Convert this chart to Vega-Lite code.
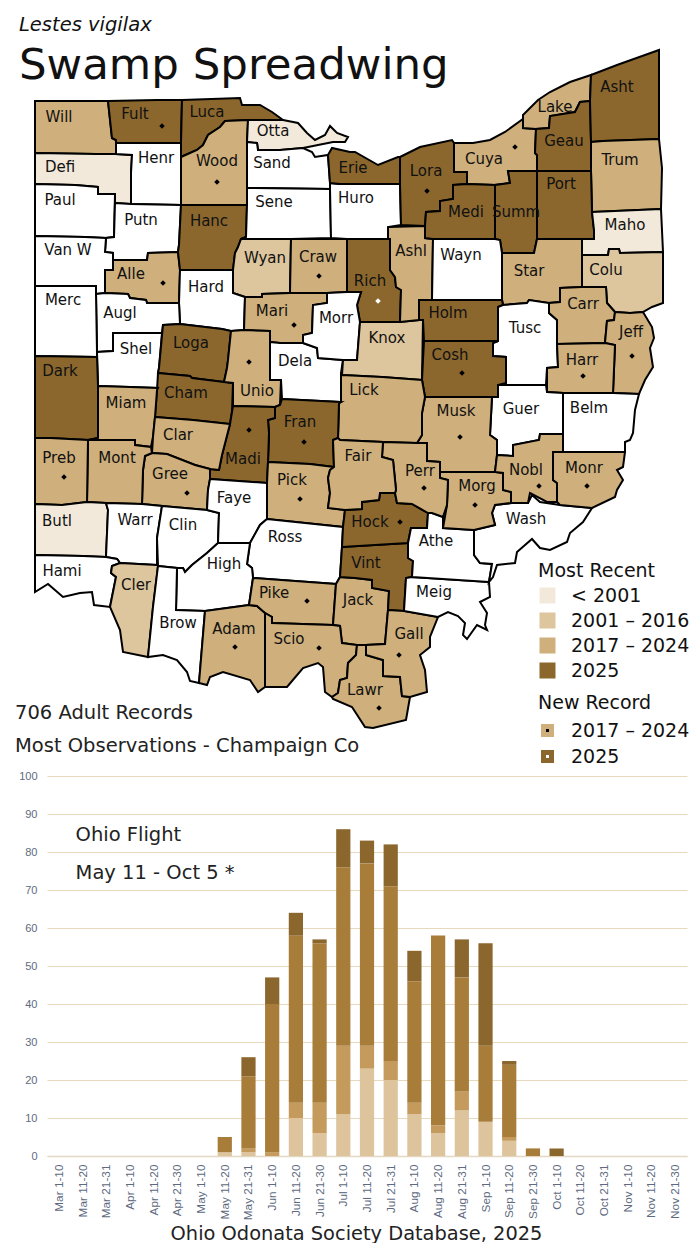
{"$schema":"https://vega.github.io/schema/vega-lite/v6.json","padding":{"left":15,"top":15,"right":0,"bottom":0},"background":"white","bounds":"flush","spacing":0,"resolve":{"scale":{"fill":"independent","color":"independent"}},"config":{"font":"DejaVu Sans","view":{"stroke":null}},
"datasets":{
"counties":[
{"type":"Feature","name":"Will","cat":"2017 – 2024","lx":59,"ly":117,"geometry":{"type":"Polygon","coordinates":[[[35,101],[108,101],[112,138],[116,140],[116,154],[96,154],[35,153],[35,101]]]}},
{"type":"Feature","name":"Fult","cat":"2025","lx":135,"ly":114,"geometry":{"type":"Polygon","coordinates":[[[108,101],[157,100],[182,100],[181,143],[116,143],[116,140],[112,138],[108,101]]]}},
{"type":"Feature","name":"Luca","cat":"2025","lx":207,"ly":112,"geometry":{"type":"Polygon","coordinates":[[[182,100],[240,98],[242,105],[260,105],[272,112],[283,120],[248,120],[225,121],[220,127],[208,135],[203,145],[197,150],[181,157],[181,143],[182,100]]]}},
{"type":"Feature","name":"Wood","cat":"2017 – 2024","lx":217,"ly":161,"geometry":{"type":"Polygon","coordinates":[[[225,121],[248,120],[247,142],[247,188],[247,205],[181,205],[181,157],[197,150],[203,145],[208,135],[220,127],[225,121]]]}},
{"type":"Feature","name":"Otta","cat":"< 2001","lx":273,"ly":131,"geometry":{"type":"Polygon","coordinates":[[[248,120],[283,120],[298,123],[307,133],[315,140],[325,135],[330,126],[337,133],[348,137],[345,142],[333,142],[313,146],[303,148],[280,150],[258,150],[257,143],[247,142],[248,120]]]}},
{"type":"Feature","name":"Sand","cat":"none","lx":272,"ly":163,"geometry":{"type":"Polygon","coordinates":[[[247,142],[257,143],[258,150],[280,150],[303,148],[312,152],[315,157],[328,155],[330,183],[330,189],[247,188],[247,142]]]}},
{"type":"Feature","name":"Defi","cat":"< 2001","lx":60,"ly":167,"geometry":{"type":"Polygon","coordinates":[[[35,153],[96,154],[116,154],[132,155],[131,173],[131,204],[115,203],[115,194],[98,194],[98,187],[75,185],[35,184],[35,153]]]}},
{"type":"Feature","name":"Henr","cat":"none","lx":156,"ly":158,"geometry":{"type":"Polygon","coordinates":[[[116,143],[181,143],[181,157],[181,205],[131,204],[131,173],[132,155],[116,154],[116,143]]]}},
{"type":"Feature","name":"Paul","cat":"none","lx":60,"ly":200,"geometry":{"type":"Polygon","coordinates":[[[35,184],[75,185],[98,187],[98,194],[115,194],[114,237],[106,238],[85,237],[35,236],[35,184]]]}},
{"type":"Feature","name":"Putn","cat":"none","lx":141,"ly":220,"geometry":{"type":"Polygon","coordinates":[[[115,203],[131,204],[181,205],[179,245],[178,252],[148,253],[147,260],[113,260],[113,253],[105,252],[106,238],[114,237],[115,203]]]}},
{"type":"Feature","name":"Van W","cat":"none","lx":68,"ly":250,"geometry":{"type":"Polygon","coordinates":[[[35,236],[85,237],[106,238],[105,252],[113,253],[113,260],[113,270],[105,270],[105,293],[96,294],[96,286],[35,286],[35,236]]]}},
{"type":"Feature","name":"Alle","cat":"2017 – 2024","lx":131,"ly":274,"geometry":{"type":"Polygon","coordinates":[[[113,260],[147,260],[148,253],[178,252],[180,270],[179,303],[147,303],[146,300],[130,298],[128,294],[105,293],[105,270],[113,270],[113,260]]]}},
{"type":"Feature","name":"Hanc","cat":"2025","lx":209,"ly":221,"geometry":{"type":"Polygon","coordinates":[[[181,205],[247,205],[246,237],[241,239],[238,247],[235,253],[233,270],[180,270],[178,252],[179,245],[181,205]]]}},
{"type":"Feature","name":"Sene","cat":"none","lx":274,"ly":202,"geometry":{"type":"Polygon","coordinates":[[[247,188],[330,189],[331,238],[291,239],[241,239],[246,237],[247,205],[247,188]]]}},
{"type":"Feature","name":"Wyan","cat":"2001 – 2016","lx":265,"ly":258,"geometry":{"type":"Polygon","coordinates":[[[241,239],[291,239],[290,293],[262,294],[262,297],[245,297],[233,293],[233,270],[235,253],[238,247],[241,239]]]}},
{"type":"Feature","name":"Craw","cat":"2017 – 2024","lx":318,"ly":257,"geometry":{"type":"Polygon","coordinates":[[[291,239],[347,239],[347,292],[327,293],[290,293],[291,239]]]}},
{"type":"Feature","name":"Hard","cat":"none","lx":206,"ly":287,"geometry":{"type":"Polygon","coordinates":[[[180,270],[233,270],[233,293],[245,297],[244,330],[231,331],[222,329],[180,324],[179,303],[180,270]]]}},
{"type":"Feature","name":"Mari","cat":"2017 – 2024","lx":272,"ly":311,"geometry":{"type":"Polygon","coordinates":[[[245,297],[262,297],[262,294],[290,293],[327,293],[327,303],[313,305],[312,333],[303,335],[303,343],[280,343],[270,342],[270,331],[244,330],[245,297]]]}},
{"type":"Feature","name":"Augl","cat":"none","lx":120,"ly":313,"geometry":{"type":"Polygon","coordinates":[[[96,294],[105,293],[128,294],[130,298],[146,300],[147,303],[179,303],[180,324],[163,325],[162,333],[113,333],[113,351],[97,352],[96,294]]]}},
{"type":"Feature","name":"Merc","cat":"none","lx":63,"ly":300,"geometry":{"type":"Polygon","coordinates":[[[35,286],[96,286],[96,294],[97,352],[97,357],[35,356],[35,286]]]}},
{"type":"Feature","name":"Shel","cat":"none","lx":136,"ly":349,"geometry":{"type":"Polygon","coordinates":[[[113,333],[162,333],[159,368],[158,373],[158,388],[130,387],[98,386],[97,352],[113,351],[113,333]]]}},
{"type":"Feature","name":"Dark","cat":"2025","lx":60,"ly":371,"geometry":{"type":"Polygon","coordinates":[[[35,356],[97,357],[98,386],[98,438],[88,440],[50,438],[35,438],[35,356]]]}},
{"type":"Feature","name":"Loga","cat":"2025","lx":191,"ly":343,"geometry":{"type":"Polygon","coordinates":[[[163,325],[180,324],[222,329],[231,331],[228,360],[227,368],[224,382],[192,378],[190,376],[158,373],[159,368],[163,325]]]}},
{"type":"Feature","name":"Cham","cat":"2025","lx":186,"ly":393,"geometry":{"type":"Polygon","coordinates":[[[158,373],[190,376],[192,378],[224,382],[233,383],[232,412],[230,424],[193,420],[155,417],[157,390],[158,373]]]}},
{"type":"Feature","name":"Miam","cat":"2017 – 2024","lx":126,"ly":403,"geometry":{"type":"Polygon","coordinates":[[[98,386],[130,387],[158,388],[157,390],[155,417],[153,437],[151,447],[135,445],[135,440],[88,440],[98,438],[98,386]]]}},
{"type":"Feature","name":"Unio","cat":"2017 – 2024","lx":257,"ly":391,"geometry":{"type":"Polygon","coordinates":[[[231,331],[244,330],[270,331],[270,342],[270,380],[281,380],[280,405],[275,407],[233,406],[233,383],[224,382],[227,368],[228,360],[231,331]]]}},
{"type":"Feature","name":"Dela","cat":"none","lx":295,"ly":361,"geometry":{"type":"Polygon","coordinates":[[[270,342],[280,343],[303,343],[317,348],[318,358],[343,360],[341,373],[341,402],[282,399],[281,380],[270,380],[270,342]]]}},
{"type":"Feature","name":"Rich","cat":"2025","lx":370,"ly":281,"geometry":{"type":"Polygon","coordinates":[[[347,239],[390,239],[390,270],[395,277],[396,287],[401,290],[400,322],[360,322],[357,305],[361,292],[347,292],[347,239]]]}},
{"type":"Feature","name":"Morr","cat":"none","lx":336,"ly":318,"geometry":{"type":"Polygon","coordinates":[[[327,293],[347,292],[361,292],[357,305],[360,322],[357,360],[343,360],[318,358],[317,348],[303,343],[303,335],[312,333],[313,305],[327,303],[327,293]]]}},
{"type":"Feature","name":"Knox","cat":"2001 – 2016","lx":387,"ly":338,"geometry":{"type":"Polygon","coordinates":[[[360,322],[400,322],[419,320],[423,320],[422,380],[382,377],[342,375],[343,360],[357,360],[360,322]]]}},
{"type":"Feature","name":"Ashl","cat":"2017 – 2024","lx":411,"ly":251,"geometry":{"type":"Polygon","coordinates":[[[388,227],[425,226],[425,238],[433,239],[432,300],[419,300],[419,320],[400,322],[401,290],[396,287],[395,277],[390,270],[390,239],[388,239],[388,227]]]}},
{"type":"Feature","name":"Huro","cat":"none","lx":356,"ly":198,"geometry":{"type":"Polygon","coordinates":[[[330,183],[340,184],[400,184],[401,225],[388,227],[388,239],[347,239],[331,238],[330,189],[330,183]]]}},
{"type":"Feature","name":"Erie","cat":"2025","lx":353,"ly":168,"geometry":{"type":"Polygon","coordinates":[[[328,155],[332,148],[350,152],[355,152],[378,165],[398,157],[400,157],[400,184],[340,184],[330,183],[328,155]]]}},
{"type":"Feature","name":"Lora","cat":"2025","lx":426,"ly":171,"geometry":{"type":"Polygon","coordinates":[[[400,157],[420,147],[452,140],[454,143],[454,172],[467,172],[467,184],[453,185],[453,199],[440,201],[440,211],[426,212],[425,226],[401,225],[400,184],[400,157]]]}},
{"type":"Feature","name":"Cuya","cat":"2017 – 2024","lx":484,"ly":159,"geometry":{"type":"Polygon","coordinates":[[[454,143],[473,143],[490,140],[505,132],[523,119],[523,128],[536,129],[535,153],[537,155],[537,171],[508,171],[510,183],[495,185],[467,184],[467,172],[454,172],[454,143]]]}},
{"type":"Feature","name":"Lake","cat":"2017 – 2024","lx":555,"ly":107,"geometry":{"type":"Polygon","coordinates":[[[523,115],[538,100],[550,92],[570,82],[591,75],[590,101],[580,102],[575,112],[550,116],[549,128],[536,129],[523,128],[523,115]]]}},
{"type":"Feature","name":"Geau","cat":"2025","lx":564,"ly":141,"geometry":{"type":"Polygon","coordinates":[[[549,128],[550,116],[575,112],[580,102],[590,101],[591,142],[591,171],[537,171],[537,155],[535,153],[536,129],[549,128]]]}},
{"type":"Feature","name":"Asht","cat":"2025","lx":617,"ly":87,"geometry":{"type":"Polygon","coordinates":[[[591,75],[617,65],[659,50],[659,95],[659,139],[603,141],[591,142],[590,101],[591,75]]]}},
{"type":"Feature","name":"Trum","cat":"2017 – 2024","lx":620,"ly":160,"geometry":{"type":"Polygon","coordinates":[[[591,142],[603,141],[659,139],[662,168],[661,209],[592,212],[591,171],[591,142]]]}},
{"type":"Feature","name":"Port","cat":"2025","lx":561,"ly":184,"geometry":{"type":"Polygon","coordinates":[[[537,171],[591,171],[592,212],[594,230],[594,239],[582,239],[537,239],[537,171]]]}},
{"type":"Feature","name":"Summ","cat":"2025","lx":516,"ly":212,"geometry":{"type":"Polygon","coordinates":[[[508,171],[537,171],[537,239],[534,253],[502,253],[500,240],[495,239],[495,185],[510,183],[508,171]]]}},
{"type":"Feature","name":"Medi","cat":"2025","lx":466,"ly":212,"geometry":{"type":"Polygon","coordinates":[[[453,185],[467,184],[495,185],[495,239],[433,239],[425,238],[425,226],[426,212],[440,211],[440,201],[453,199],[453,185]]]}},
{"type":"Feature","name":"Maho","cat":"< 2001","lx":625,"ly":225,"geometry":{"type":"Polygon","coordinates":[[[592,212],[661,209],[663,252],[620,253],[619,249],[609,249],[608,255],[582,255],[582,239],[594,239],[594,230],[592,212]]]}},
{"type":"Feature","name":"Wayn","cat":"none","lx":461,"ly":255,"geometry":{"type":"Polygon","coordinates":[[[433,239],[495,239],[500,240],[502,253],[502,300],[432,300],[433,239]]]}},
{"type":"Feature","name":"Star","cat":"2017 – 2024","lx":529,"ly":271,"geometry":{"type":"Polygon","coordinates":[[[502,253],[534,253],[537,239],[582,239],[582,255],[582,287],[560,288],[560,302],[549,303],[529,300],[527,303],[503,305],[502,300],[502,253]]]}},
{"type":"Feature","name":"Colu","cat":"2001 – 2016","lx":606,"ly":270,"geometry":{"type":"Polygon","coordinates":[[[582,255],[608,255],[609,249],[619,249],[620,253],[663,252],[663,303],[652,307],[643,312],[630,313],[615,312],[607,303],[606,287],[582,287],[582,255]]]}},
{"type":"Feature","name":"Holm","cat":"2025","lx":448,"ly":313,"geometry":{"type":"Polygon","coordinates":[[[419,300],[432,300],[502,300],[503,305],[498,307],[498,341],[424,341],[423,320],[419,320],[419,300]]]}},
{"type":"Feature","name":"Tusc","cat":"none","lx":525,"ly":328,"geometry":{"type":"Polygon","coordinates":[[[498,307],[503,305],[527,303],[529,300],[549,303],[549,313],[557,320],[557,344],[558,367],[547,368],[546,385],[498,385],[506,383],[506,357],[493,356],[493,343],[498,341],[498,307]]]}},
{"type":"Feature","name":"Cosh","cat":"2025","lx":450,"ly":355,"geometry":{"type":"Polygon","coordinates":[[[424,341],[498,341],[493,343],[493,356],[506,357],[506,383],[498,385],[498,397],[425,397],[422,380],[423,360],[424,341]]]}},
{"type":"Feature","name":"Carr","cat":"2017 – 2024","lx":583,"ly":304,"geometry":{"type":"Polygon","coordinates":[[[560,288],[582,287],[606,287],[607,303],[615,312],[614,320],[607,321],[605,343],[557,344],[557,320],[549,313],[549,303],[560,302],[560,288]]]}},
{"type":"Feature","name":"Jeff","cat":"2017 – 2024","lx":631,"ly":332,"geometry":{"type":"Polygon","coordinates":[[[615,312],[630,313],[643,312],[652,327],[654,338],[650,348],[653,367],[645,380],[639,394],[613,393],[615,345],[605,343],[607,321],[614,320],[615,312]]]}},
{"type":"Feature","name":"Harr","cat":"2017 – 2024","lx":582,"ly":360,"geometry":{"type":"Polygon","coordinates":[[[557,344],[605,343],[615,345],[613,393],[563,393],[547,392],[547,368],[558,367],[557,344]]]}},
{"type":"Feature","name":"Guer","cat":"none","lx":521,"ly":409,"geometry":{"type":"Polygon","coordinates":[[[498,385],[546,385],[547,392],[563,393],[563,434],[540,434],[539,440],[513,445],[513,456],[497,455],[497,440],[490,435],[492,397],[498,397],[498,385]]]}},
{"type":"Feature","name":"Belm","cat":"none","lx":589,"ly":408,"geometry":{"type":"Polygon","coordinates":[[[563,393],[613,393],[639,394],[635,410],[633,433],[630,440],[625,442],[625,452],[563,452],[563,393]]]}},
{"type":"Feature","name":"Musk","cat":"2017 – 2024","lx":456,"ly":411,"geometry":{"type":"Polygon","coordinates":[[[425,397],[492,397],[490,435],[497,440],[497,455],[495,472],[440,472],[440,462],[427,461],[427,443],[417,443],[422,435],[422,413],[425,397]]]}},
{"type":"Feature","name":"Lick","cat":"2017 – 2024","lx":364,"ly":390,"geometry":{"type":"Polygon","coordinates":[[[342,375],[382,377],[422,380],[425,397],[422,413],[422,435],[417,443],[383,442],[340,440],[338,438],[339,403],[341,402],[341,373],[342,375]]]}},
{"type":"Feature","name":"Fran","cat":"2025","lx":300,"ly":422,"geometry":{"type":"Polygon","coordinates":[[[282,399],[341,402],[339,403],[338,438],[333,440],[334,467],[310,464],[268,462],[269,433],[268,420],[275,418],[275,407],[280,405],[282,399]]]}},
{"type":"Feature","name":"Madi","cat":"2025","lx":243,"ly":459,"geometry":{"type":"Polygon","coordinates":[[[233,406],[275,407],[275,418],[268,420],[269,433],[268,462],[267,483],[210,479],[210,469],[219,470],[222,455],[230,424],[232,412],[233,406]]]}},
{"type":"Feature","name":"Clar","cat":"2017 – 2024","lx":178,"ly":435,"geometry":{"type":"Polygon","coordinates":[[[155,417],[193,420],[230,424],[222,455],[219,470],[210,469],[195,465],[167,454],[152,453],[153,437],[155,417]]]}},
{"type":"Feature","name":"Gree","cat":"2017 – 2024","lx":170,"ly":474,"geometry":{"type":"Polygon","coordinates":[[[145,456],[152,453],[167,454],[195,465],[210,469],[210,479],[208,490],[207,510],[162,506],[142,504],[143,470],[145,456]]]}},
{"type":"Feature","name":"Mont","cat":"2017 – 2024","lx":117,"ly":458,"geometry":{"type":"Polygon","coordinates":[[[88,440],[135,440],[135,445],[151,447],[152,453],[145,456],[143,470],[142,504],[106,503],[87,502],[88,440]]]}},
{"type":"Feature","name":"Preb","cat":"2017 – 2024","lx":59,"ly":458,"geometry":{"type":"Polygon","coordinates":[[[35,438],[50,438],[88,440],[87,502],[62,505],[35,504],[35,438]]]}},
{"type":"Feature","name":"Butl","cat":"< 2001","lx":57,"ly":521,"geometry":{"type":"Polygon","coordinates":[[[35,504],[62,505],[87,502],[106,503],[108,510],[106,557],[83,556],[35,555],[35,504]]]}},
{"type":"Feature","name":"Warr","cat":"none","lx":135,"ly":520,"geometry":{"type":"Polygon","coordinates":[[[106,503],[142,504],[162,506],[157,538],[157,565],[120,563],[117,559],[106,557],[108,510],[106,503]]]}},
{"type":"Feature","name":"Clin","cat":"none","lx":183,"ly":525,"geometry":{"type":"Polygon","coordinates":[[[162,506],[207,510],[219,513],[218,543],[207,553],[192,565],[185,572],[183,568],[177,568],[158,566],[157,538],[162,506]]]}},
{"type":"Feature","name":"Faye","cat":"none","lx":234,"ly":498,"geometry":{"type":"Polygon","coordinates":[[[210,479],[267,483],[267,519],[260,525],[250,543],[218,543],[219,513],[207,510],[208,490],[210,479]]]}},
{"type":"Feature","name":"Pick","cat":"2017 – 2024","lx":292,"ly":480,"geometry":{"type":"Polygon","coordinates":[[[268,462],[310,464],[334,467],[330,470],[328,478],[330,493],[328,508],[345,510],[343,527],[267,519],[267,483],[268,462]]]}},
{"type":"Feature","name":"Ross","cat":"none","lx":285,"ly":537,"geometry":{"type":"Polygon","coordinates":[[[267,519],[343,527],[342,547],[340,577],[336,584],[253,578],[252,568],[247,564],[250,543],[260,525],[267,519]]]}},
{"type":"Feature","name":"High","cat":"none","lx":224,"ly":564,"geometry":{"type":"Polygon","coordinates":[[[218,543],[250,543],[247,564],[252,568],[253,578],[249,605],[227,608],[205,611],[176,610],[177,568],[183,568],[185,572],[192,565],[207,553],[218,543]]]}},
{"type":"Feature","name":"Hami","cat":"none","lx":62,"ly":571,"geometry":{"type":"Polygon","coordinates":[[[35,555],[83,556],[106,557],[117,559],[120,563],[112,566],[111,573],[116,577],[110,607],[94,605],[92,592],[80,593],[63,597],[48,584],[35,592],[35,555]]]}},
{"type":"Feature","name":"Cler","cat":"2001 – 2016","lx":136,"ly":585,"geometry":{"type":"Polygon","coordinates":[[[120,563],[157,565],[158,566],[153,607],[148,657],[123,652],[120,630],[110,607],[116,577],[111,573],[112,566],[120,563]]]}},
{"type":"Feature","name":"Brow","cat":"none","lx":178,"ly":623,"geometry":{"type":"Polygon","coordinates":[[[158,566],[177,568],[176,610],[205,611],[199,683],[190,681],[187,672],[177,660],[163,655],[148,657],[153,607],[158,566]]]}},
{"type":"Feature","name":"Adam","cat":"2017 – 2024","lx":234,"ly":629,"geometry":{"type":"Polygon","coordinates":[[[205,611],[227,608],[249,605],[257,606],[265,613],[265,687],[258,692],[250,680],[223,672],[210,677],[207,685],[199,683],[205,611]]]}},
{"type":"Feature","name":"Pike","cat":"2017 – 2024","lx":274,"ly":593,"geometry":{"type":"Polygon","coordinates":[[[249,605],[253,578],[336,584],[333,625],[272,623],[272,617],[265,613],[257,606],[249,605]]]}},
{"type":"Feature","name":"Jack","cat":"2017 – 2024","lx":358,"ly":600,"geometry":{"type":"Polygon","coordinates":[[[340,577],[355,578],[372,580],[372,588],[389,591],[388,610],[385,644],[366,645],[357,645],[342,643],[340,626],[333,625],[336,584],[340,577]]]}},
{"type":"Feature","name":"Vint","cat":"2025","lx":366,"ly":563,"geometry":{"type":"Polygon","coordinates":[[[342,547],[408,543],[408,558],[413,561],[412,577],[406,578],[404,611],[388,610],[389,591],[372,588],[372,580],[355,578],[340,577],[342,547]]]}},
{"type":"Feature","name":"Hock","cat":"2025","lx":370,"ly":522,"geometry":{"type":"Polygon","coordinates":[[[345,510],[362,509],[362,502],[379,500],[380,493],[395,493],[397,503],[412,504],[428,513],[427,528],[411,528],[408,543],[342,547],[343,527],[345,510]]]}},
{"type":"Feature","name":"Scio","cat":"2017 – 2024","lx":289,"ly":639,"geometry":{"type":"Polygon","coordinates":[[[265,613],[272,617],[272,623],[333,625],[340,626],[342,643],[357,645],[356,655],[348,663],[347,678],[340,680],[338,693],[332,697],[325,692],[323,667],[318,663],[303,668],[287,687],[270,687],[265,687],[265,613]]]}},
{"type":"Feature","name":"Lawr","cat":"2017 – 2024","lx":365,"ly":690,"geometry":{"type":"Polygon","coordinates":[[[340,680],[347,678],[348,663],[356,655],[357,645],[366,645],[366,655],[383,660],[383,676],[400,677],[402,696],[410,697],[406,720],[373,728],[365,727],[352,707],[333,699],[332,697],[338,693],[340,680]]]}},
{"type":"Feature","name":"Gall","cat":"2017 – 2024","lx":409,"ly":634,"geometry":{"type":"Polygon","coordinates":[[[366,655],[366,645],[385,644],[388,610],[404,611],[438,617],[430,637],[430,647],[420,655],[425,670],[427,692],[410,697],[402,696],[400,677],[383,676],[383,660],[366,655]]]}},
{"type":"Feature","name":"Meig","cat":"none","lx":434,"ly":592,"geometry":{"type":"Polygon","coordinates":[[[406,578],[412,577],[489,582],[490,597],[480,602],[487,613],[485,625],[487,630],[477,625],[467,639],[463,635],[465,623],[458,616],[448,612],[438,617],[404,611],[406,578]]]}},
{"type":"Feature","name":"Athe","cat":"none","lx":436,"ly":541,"geometry":{"type":"Polygon","coordinates":[[[408,543],[411,528],[427,528],[428,513],[432,513],[443,517],[443,528],[474,530],[474,555],[480,563],[492,564],[489,582],[412,577],[413,561],[408,558],[408,543]]]}},
{"type":"Feature","name":"Wash","cat":"none","lx":526,"ly":519,"geometry":{"type":"Polygon","coordinates":[[[474,530],[495,525],[492,513],[495,505],[511,503],[528,503],[532,495],[540,502],[560,505],[592,508],[583,522],[570,533],[567,542],[550,550],[540,548],[532,539],[517,552],[515,563],[497,565],[493,577],[489,582],[492,564],[480,563],[474,555],[474,530]]]}},
{"type":"Feature","name":"Morg","cat":"2017 – 2024","lx":477,"ly":486,"geometry":{"type":"Polygon","coordinates":[[[440,472],[495,472],[503,473],[503,490],[511,492],[511,503],[495,505],[492,513],[495,525],[474,530],[443,528],[447,505],[448,480],[440,478],[440,472]]]}},
{"type":"Feature","name":"Perr","cat":"2017 – 2024","lx":420,"ly":471,"geometry":{"type":"Polygon","coordinates":[[[383,442],[417,443],[427,443],[427,461],[440,462],[440,478],[448,480],[447,505],[443,517],[432,513],[428,513],[412,504],[397,503],[395,493],[396,490],[393,460],[382,457],[383,442]]]}},
{"type":"Feature","name":"Fair","cat":"2017 – 2024","lx":358,"ly":456,"geometry":{"type":"Polygon","coordinates":[[[340,440],[383,442],[382,457],[393,460],[396,490],[395,493],[380,493],[379,500],[362,502],[362,509],[345,510],[328,508],[330,493],[328,478],[330,470],[334,467],[333,440],[338,438],[340,440]]]}},
{"type":"Feature","name":"Nobl","cat":"2017 – 2024","lx":526,"ly":470,"geometry":{"type":"Polygon","coordinates":[[[497,455],[513,456],[513,445],[539,440],[540,434],[563,434],[563,452],[553,452],[553,480],[557,483],[557,502],[547,502],[530,493],[528,503],[511,503],[511,492],[503,490],[503,473],[495,472],[497,455]]]}},
{"type":"Feature","name":"Monr","cat":"2017 – 2024","lx":584,"ly":468,"geometry":{"type":"Polygon","coordinates":[[[553,452],[563,452],[625,452],[623,467],[617,470],[623,480],[617,490],[615,497],[592,508],[560,505],[557,502],[557,483],[553,480],[553,452]]]}}
],
"dots":[
{"county":"Fult","lon":162,"lat":126,"new":"2017 – 2024"},{"county":"Wood","lon":217,"lat":182,"new":"2017 – 2024"},{"county":"Craw","lon":319,"lat":276,"new":"2017 – 2024"},{"county":"Alle","lon":163,"lat":283,"new":"2017 – 2024"},{"county":"Mari","lon":294,"lat":325,"new":"2017 – 2024"},{"county":"Unio","lon":249,"lat":362,"new":"2017 – 2024"},{"county":"Madi","lon":249,"lat":430,"new":"2017 – 2024"},{"county":"Fran","lon":304,"lat":442,"new":"2017 – 2024"},{"county":"Preb","lon":64,"lat":477,"new":"2017 – 2024"},{"county":"Gree","lon":187,"lat":493,"new":"2017 – 2024"},{"county":"Pick","lon":300,"lat":499,"new":"2017 – 2024"},{"county":"Cuya","lon":515,"lat":147,"new":"2017 – 2024"},{"county":"Lora","lon":427,"lat":191,"new":"2017 – 2024"},{"county":"Cosh","lon":462,"lat":373,"new":"2017 – 2024"},{"county":"Musk","lon":460,"lat":437,"new":"2017 – 2024"},{"county":"Perr","lon":424,"lat":488,"new":"2017 – 2024"},{"county":"Morg","lon":475,"lat":505,"new":"2017 – 2024"},{"county":"Nobl","lon":539,"lat":486,"new":"2017 – 2024"},{"county":"Monr","lon":587,"lat":486,"new":"2017 – 2024"},{"county":"Jeff","lon":632,"lat":356,"new":"2017 – 2024"},{"county":"Harr","lon":583,"lat":376,"new":"2017 – 2024"},{"county":"Hock","lon":400,"lat":522,"new":"2017 – 2024"},{"county":"Adam","lon":235,"lat":647,"new":"2017 – 2024"},{"county":"Scio","lon":319,"lat":648,"new":"2017 – 2024"},{"county":"Pike","lon":307,"lat":601,"new":"2017 – 2024"},{"county":"Gall","lon":399,"lat":655,"new":"2017 – 2024"},{"county":"Lawr","lon":379,"lat":708,"new":"2017 – 2024"},{"county":"Rich","lon":378,"lat":301,"new":"2025"}
],
"flight":[
{"bin":"May 11-20","s":"a","o":1,"n":1},{"bin":"May 11-20","s":"c","o":3,"n":4},
{"bin":"May 21-31","s":"a","o":1,"n":1},{"bin":"May 21-31","s":"b","o":2,"n":1},{"bin":"May 21-31","s":"c","o":3,"n":19},{"bin":"May 21-31","s":"d","o":4,"n":5},
{"bin":"Jun 1-10","s":"b","o":2,"n":1},{"bin":"Jun 1-10","s":"c","o":3,"n":39},{"bin":"Jun 1-10","s":"d","o":4,"n":7},
{"bin":"Jun 11-20","s":"a","o":1,"n":10},{"bin":"Jun 11-20","s":"b","o":2,"n":4},{"bin":"Jun 11-20","s":"c","o":3,"n":44},{"bin":"Jun 11-20","s":"d","o":4,"n":6},
{"bin":"Jun 21-30","s":"a","o":1,"n":6},{"bin":"Jun 21-30","s":"b","o":2,"n":8},{"bin":"Jun 21-30","s":"c","o":3,"n":42},{"bin":"Jun 21-30","s":"d","o":4,"n":1},
{"bin":"Jul 1-10","s":"a","o":1,"n":11},{"bin":"Jul 1-10","s":"b","o":2,"n":18},{"bin":"Jul 1-10","s":"c","o":3,"n":47},{"bin":"Jul 1-10","s":"d","o":4,"n":10},
{"bin":"Jul 11-20","s":"a","o":1,"n":23},{"bin":"Jul 11-20","s":"b","o":2,"n":6},{"bin":"Jul 11-20","s":"c","o":3,"n":48},{"bin":"Jul 11-20","s":"d","o":4,"n":6},
{"bin":"Jul 21-31","s":"a","o":1,"n":20},{"bin":"Jul 21-31","s":"b","o":2,"n":5},{"bin":"Jul 21-31","s":"c","o":3,"n":46},{"bin":"Jul 21-31","s":"d","o":4,"n":11},
{"bin":"Aug 1-10","s":"a","o":1,"n":11},{"bin":"Aug 1-10","s":"b","o":2,"n":3},{"bin":"Aug 1-10","s":"c","o":3,"n":32},{"bin":"Aug 1-10","s":"d","o":4,"n":8},
{"bin":"Aug 11-20","s":"a","o":1,"n":6},{"bin":"Aug 11-20","s":"b","o":2,"n":2},{"bin":"Aug 11-20","s":"c","o":3,"n":50},
{"bin":"Aug 21-31","s":"a","o":1,"n":12},{"bin":"Aug 21-31","s":"b","o":2,"n":5},{"bin":"Aug 21-31","s":"c","o":3,"n":30},{"bin":"Aug 21-31","s":"d","o":4,"n":10},
{"bin":"Sep 1-10","s":"a","o":1,"n":9},{"bin":"Sep 1-10","s":"c","o":3,"n":20},{"bin":"Sep 1-10","s":"d","o":4,"n":27},
{"bin":"Sep 11-20","s":"a","o":1,"n":4},{"bin":"Sep 11-20","s":"b","o":2,"n":1},{"bin":"Sep 11-20","s":"c","o":3,"n":19},{"bin":"Sep 11-20","s":"d","o":4,"n":1},
{"bin":"Sep 21-30","s":"c","o":3,"n":2},
{"bin":"Oct 1-10","s":"d","o":4,"n":2}
]},
"vconcat":[
{"width":640,"height":686,
"title":{"text":"Lestes vigilax","subtitle":"Swamp Spreadwing","anchor":"start","frame":"group","dx":-28,"fontSize":19.5,"fontStyle":"italic","fontWeight":"normal","color":"#111111","subtitleFontSize":43.5,"subtitleColor":"#111111","subtitlePadding":9,"offset":-42,"limit":600},
"projection":{"type":"identity","scale":1,"translate":[-47,-90]},
"layer":[
{"data":{"name":"counties"},"mark":{"type":"geoshape","clip":false,"stroke":"black","strokeWidth":2,"strokeJoin":"miter"},
"encoding":{"fill":{"field":"cat","type":"nominal","scale":{"domain":["< 2001","2001 – 2016","2017 – 2024","2025","none"],"range":["#F2E9DA","#DDC59D","#CFAF7B","#8B672E","#FFFFFF"]},
"legend":{"title":"Most Recent","orient":"none","legendX":491,"legendY":472,"values":["< 2001","2001 – 2016","2017 – 2024","2025"],"titleFontSize":19,"titleFontWeight":"normal","titleColor":"#111111","labelFontSize":19,"labelColor":"#111111","symbolType":"square","symbolSize":256,"symbolStrokeWidth":0,"symbolOpacity":1,"rowPadding":5,"labelOffset":14,"labelLimit":200,"titlePadding":5,"titleLimit":200}}}},
{"data":{"name":"counties"},"mark":{"type":"text","clip":false,"fontSize":15,"color":"#111111","align":"center","baseline":"middle"},
"encoding":{"longitude":{"field":"lx","type":"quantitative"},"latitude":{"field":"ly","type":"quantitative"},"text":{"field":"name","type":"nominal"}}},
{"data":{"name":"dots"},"mark":{"type":"point","clip":false,"filled":true,"opacity":1,"shape":"diamond","size":30},
"encoding":{"longitude":{"field":"lon","type":"quantitative"},"latitude":{"field":"lat","type":"quantitative"},
"color":{"field":"new","type":"nominal","scale":{"domain":["2017 – 2024","2025"],"range":["#000000","#FFFFFF"]},
"legend":{"title":"New Record","orient":"none","legendX":491,"legendY":604,"titleFontSize":19,"titleFontWeight":"normal","titleColor":"#111111","labelFontSize":19,"labelColor":"#111111","rowPadding":-3,"labelOffset":14,"labelLimit":200,"titlePadding":8,"titleLimit":200,"symbolOpacity":1,"symbolSize":64,"symbolType":"square","symbolStrokeWidth":5,"encode":{"symbols":{"update":{"stroke":{"signal":"datum.value === '2025' ? '#8B672E' : '#CFAF7B'"}}}}}}}}
]},
{"width":640,"height":380,
"title":{"text":["706 Adult Records","Most Observations - Champaign Co"],"anchor":"start","frame":"group","dx":-32,"fontSize":19.5,"fontWeight":"normal","color":"#222222","lineHeight":33,"offset":14,"limit":600},
"data":{"name":"flight"},
"encoding":{
"x":{"field":"bin","type":"nominal","title":"Ohio Odonata Society Database, 2025","scale":{"domain":["Mar 1-10","Mar 11-20","Mar 21-31","Apr 1-10","Apr 11-20","Apr 21-30","May 1-10","May 11-20","May 21-31","Jun 1-10","Jun 11-20","Jun 21-30","Jul 1-10","Jul 11-20","Jul 21-31","Aug 1-10","Aug 11-20","Aug 21-31","Sep 1-10","Sep 11-20","Sep 21-30","Oct 1-10","Oct 11-20","Oct 21-31","Nov 1-10","Nov 11-20","Nov 21-30"],"paddingInner":0.4,"paddingOuter":0.2},
"axis":{"labelAngle":-90,"labelFont":"Liberation Sans","labelFontSize":11.8,"labelColor":"#5E6A80","labelPadding":8,"ticks":false,"domainColor":"#E3D8C2","domainWidth":1.5,"titleFontSize":19.4,"titleFontWeight":"normal","titleColor":"#222222","titleX":309,"titleY":77,"titleBaseline":"middle"}},
"y":{"field":"n","type":"quantitative","title":null,"scale":{"domain":[0,100]},"axis":{"values":[0,10,20,30,40,50,60,70,80,90,100],"domain":false,"ticks":false,"labelFont":"Liberation Sans","labelFontSize":11,"labelColor":"#5E6A80","labelPadding":10,"gridColor":"#E6D9BE","gridWidth":1.2}}},
"layer":[
{"mark":{"type":"bar"},
"encoding":{
"fill":{"field":"s","type":"nominal","legend":null,"scale":{"domain":["a","b","c","d"],"range":["#DDC49C","#C49B5C","#A87C39","#8B672E"]}},
"order":{"field":"o","type":"quantitative"}}},
{"data":{"values":[{"bin":"Mar 11-20","n":84.5,"label":"Ohio Flight"},{"bin":"Mar 11-20","n":74.5,"label":"May 11 - Oct 5 *"}]},
"mark":{"type":"text","align":"left","baseline":"middle","fontSize":19.5,"dx":-7,"color":"#222222"},
"encoding":{"text":{"field":"label","type":"nominal"}}}
]}
]}
